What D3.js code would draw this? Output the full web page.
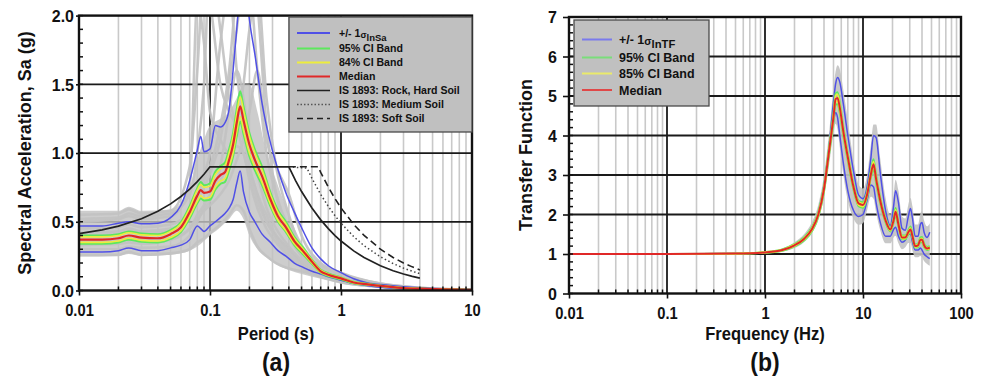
<!DOCTYPE html>
<html>
<head>
<meta charset="utf-8">
<script src="https://cdn.jsdelivr.net/npm/d3@7"></script>
<style>
  body { margin: 0; background: #fff; }
  svg { display: block; }
  text { font-family: "Liberation Sans", Arial, sans-serif; font-weight: bold; fill: #111; }
</style>
</head>
<body>
<svg id="chart" width="984" height="383"></svg>
<script>
// ---------- Panel (a): response spectra ----------
const periods = [0.01,0.015,0.02,0.024,0.03,0.04,0.05,0.06,0.07,0.08,0.085,0.09,0.1,0.11,0.12,0.13,0.14,0.15,0.16,0.17,0.18,0.2,0.22,0.25,0.29,0.33,0.38,0.44,0.51,0.6,0.7,0.8,1.0,1.25,1.6,2.2,3,4,6,10];
const medianSa = [0.37,0.37,0.38,0.40,0.385,0.38,0.41,0.46,0.57,0.69,0.73,0.71,0.72,0.80,0.84,0.86,0.95,1.06,1.22,1.34,1.24,1.06,0.95,0.83,0.66,0.54,0.46,0.36,0.29,0.21,0.14,0.115,0.088,0.058,0.045,0.03,0.018,0.013,0.008,0.005];
const sigmaUpSa = [0.47,0.47,0.49,0.50,0.485,0.49,0.53,0.62,0.80,1.02,1.12,1.01,1.03,1.20,1.19,1.22,1.32,1.60,1.90,2.2,2.4,1.97,1.72,1.36,1.07,0.88,0.71,0.57,0.44,0.31,0.23,0.18,0.13,0.085,0.055,0.04,0.028,0.02,0.012,0.008];
const sigmaLoSa = [0.28,0.28,0.29,0.31,0.29,0.29,0.31,0.33,0.37,0.47,0.45,0.43,0.47,0.50,0.53,0.56,0.60,0.66,0.78,0.87,0.72,0.57,0.50,0.41,0.35,0.29,0.25,0.20,0.17,0.14,0.12,0.10,0.075,0.05,0.035,0.02,0.012,0.009,0.005,0.003];
const ci95UpSa = [0.40,0.40,0.41,0.43,0.415,0.41,0.44,0.495,0.615,0.745,0.79,0.765,0.78,0.865,0.905,0.93,1.03,1.145,1.32,1.45,1.34,1.145,1.025,0.90,0.71,0.585,0.50,0.39,0.315,0.225,0.15,0.125,0.095,0.063,0.049,0.032,0.019,0.014,0.009,0.0055];
const ci95LoSa = [0.34,0.34,0.35,0.37,0.355,0.35,0.375,0.425,0.525,0.635,0.67,0.655,0.66,0.735,0.775,0.79,0.875,0.975,1.12,1.23,1.14,0.975,0.875,0.765,0.61,0.50,0.425,0.33,0.265,0.195,0.13,0.105,0.081,0.053,0.041,0.028,0.017,0.012,0.007,0.0045];
const ci84UpSa = [0.39,0.39,0.40,0.42,0.405,0.40,0.43,0.485,0.60,0.73,0.77,0.75,0.76,0.845,0.885,0.905,1.00,1.12,1.285,1.41,1.31,1.12,1.00,0.875,0.695,0.57,0.485,0.38,0.305,0.22,0.148,0.121,0.093,0.061,0.047,0.032,0.019,0.014,0.0085,0.0053];
const ci84LoSa = [0.35,0.35,0.36,0.38,0.365,0.36,0.385,0.435,0.54,0.65,0.69,0.67,0.68,0.755,0.795,0.815,0.90,1.00,1.155,1.265,1.17,1.00,0.90,0.785,0.625,0.51,0.435,0.34,0.275,0.20,0.132,0.109,0.083,0.055,0.043,0.028,0.017,0.012,0.0075,0.0047];

// individual record spectra (grey)
const recPeriods = [0.01,0.02,0.024,0.03,0.05,0.07,0.08,0.09,0.1,0.12,0.14,0.16,0.18,0.2,0.23,0.27,0.32,0.4,0.5,0.7,1,2,4,10];
const recSpreadHi = [0.58,0.58,0.61,0.58,0.59,0.75,0.95,1.1,1.2,1.25,1.3,1.4,1.5,1.5,1.3,1.0,0.8,0.55,0.35,0.2,0.13,0.055,0.022,0.007];
const recSpreadLo = [0.245,0.25,0.265,0.25,0.26,0.29,0.32,0.36,0.40,0.46,0.52,0.58,0.52,0.40,0.30,0.24,0.19,0.15,0.12,0.085,0.05,0.02,0.008,0.002];
const rec1 = [0.55,0.56,0.59,0.56,0.58,0.9,1.6,2.3,2.1,1.5,1.3,1.2,1.1,0.9,0.7,0.5,0.4,0.3,0.2,0.12,0.08,0.03,0.012,0.004];
const rec2 = [0.45,0.46,0.48,0.46,0.48,0.58,0.7,0.8,0.9,1.2,1.6,2.2,2.5,2.3,1.6,1.0,0.7,0.45,0.3,0.16,0.1,0.04,0.015,0.005];
const rec3 = [0.40,0.41,0.43,0.41,0.44,0.55,0.7,0.85,1.0,1.8,2.2,1.6,1.2,0.9,0.7,0.55,0.4,0.3,0.2,0.12,0.08,0.03,0.01,0.004];
const rec4 = [0.33,0.34,0.35,0.34,0.37,0.45,0.55,0.62,0.7,0.8,0.95,1.2,1.5,1.9,2.2,1.4,0.9,0.55,0.3,0.18,0.12,0.05,0.02,0.006];
const rec5 = [0.26,0.26,0.28,0.26,0.27,0.30,0.35,0.38,0.42,0.48,0.55,0.62,0.58,0.45,0.32,0.25,0.2,0.16,0.14,0.1,0.06,0.025,0.01,0.003];
const rec6 = [0.30,0.30,0.32,0.31,0.32,0.40,0.5,0.6,0.65,0.9,1.3,1.6,1.4,1.1,0.85,0.6,0.45,0.32,0.22,0.13,0.085,0.035,0.012,0.004];
const rec7 = [0.50,0.52,0.54,0.52,0.54,0.75,2.1,1.8,1.3,1.1,1.0,1.05,1.0,0.8,0.6,0.45,0.35,0.25,0.17,0.1,0.07,0.03,0.012,0.004];
const rec8 = [0.36,0.36,0.38,0.37,0.38,0.45,0.52,0.58,0.62,0.7,0.8,0.95,1.1,1.3,1.6,1.1,0.9,0.7,0.4,0.2,0.13,0.05,0.02,0.005];
const rec9 = [0.42,0.43,0.45,0.43,0.45,0.55,0.65,0.75,0.85,1.1,1.5,1.9,2.3,2.6,2.1,1.2,0.7,0.4,0.25,0.14,0.09,0.04,0.015,0.005];
const rec10 = [0.52,0.53,0.56,0.54,0.56,0.7,1.0,1.5,2.4,1.9,1.4,1.2,1.0,0.85,0.65,0.5,0.38,0.27,0.18,0.11,0.075,0.03,0.01,0.004];

// IS 1893 design spectra (scaled)
const rockT  = [0.01,0.015,0.02,0.03,0.04,0.05,0.06,0.07,0.08,0.09,0.1,0.4,0.45,0.5,0.6,0.7,0.8,0.9,1.0,1.25,1.5,2,2.5,3,3.5,4];
const rockSa = [0.414,0.441,0.468,0.522,0.576,0.63,0.684,0.738,0.792,0.846,0.9,0.9,0.8,0.72,0.6,0.514,0.45,0.4,0.36,0.288,0.24,0.18,0.144,0.12,0.103,0.09];
const mediumT  = [0.4,0.55,0.6,0.7,0.8,0.9,1.0,1.25,1.5,2,2.5,3,3.5,4];
const mediumSa = [0.9,0.89,0.816,0.699,0.612,0.544,0.49,0.392,0.326,0.245,0.196,0.163,0.14,0.122];
const softT  = [0.4,0.67,0.7,0.8,0.9,1.0,1.25,1.5,2,2.5,3,3.5,4];
const softSa = [0.9,0.9,0.859,0.752,0.668,0.601,0.481,0.401,0.301,0.24,0.2,0.172,0.15];

const saTicks = [0, 0.5, 1, 1.5, 2];
const periodTicks = [0.01, 0.1, 1, 10];

// ---------- Panel (b): transfer functions ----------
const freq = [0.01,0.1,0.5,1,1.5,2,2.5,3,3.5,4,4.5,5,5.25,5.5,5.8,6.3,7,8,9,10,11,12,12.8,13.6,15,17,19,20.5,21.5,23,25,27,29,30.5,32,34,36.5,38.5,40,42,45,48];
const medianTF = [1.00,1.00,1.01,1.04,1.10,1.22,1.38,1.62,2.00,2.65,3.60,4.47,4.92,4.95,4.70,4.10,3.45,2.70,2.28,2.24,2.50,3.00,3.27,2.90,2.35,1.85,1.62,1.85,2.07,1.75,1.42,1.42,1.55,1.62,1.45,1.20,1.22,1.36,1.36,1.22,1.14,1.16];
const sigmaUpTF = [1.00,1.00,1.01,1.04,1.10,1.23,1.40,1.66,2.06,2.75,3.70,4.85,5.30,5.47,5.35,4.80,4.00,3.10,2.50,2.40,2.70,3.40,4.00,3.95,3.05,2.10,1.72,2.20,2.60,2.30,1.65,1.60,1.95,2.15,1.90,1.45,1.45,1.75,1.80,1.55,1.42,1.55];
const sigmaLoTF = [1.00,1.00,1.01,1.04,1.10,1.22,1.38,1.63,2.02,2.68,3.55,4.35,4.58,4.45,4.00,3.30,2.60,2.10,1.95,2.00,2.35,2.75,2.70,2.30,1.80,1.45,1.45,1.62,1.68,1.45,1.30,1.35,1.50,1.50,1.30,1.10,1.10,1.15,1.10,1.00,0.93,0.88];
const ci95UpTF = [1.00,1.00,1.01,1.05,1.12,1.25,1.42,1.67,2.06,2.73,3.70,4.60,5.07,5.10,4.84,4.22,3.55,2.78,2.35,2.31,2.58,3.10,3.40,3.01,2.43,1.91,1.67,1.92,2.17,1.82,1.47,1.47,1.61,1.70,1.51,1.24,1.27,1.42,1.43,1.27,1.18,1.20];
const ci95LoTF = [1.00,1.00,1.00,1.03,1.08,1.19,1.34,1.57,1.94,2.57,3.50,4.34,4.77,4.80,4.56,3.98,3.35,2.62,2.21,2.17,2.42,2.91,3.14,2.79,2.27,1.79,1.57,1.78,1.97,1.68,1.37,1.37,1.49,1.54,1.39,1.16,1.17,1.30,1.29,1.17,1.10,1.12];
const ci85UpTF = [1.00,1.00,1.01,1.05,1.11,1.24,1.40,1.65,2.04,2.70,3.66,4.55,5.01,5.04,4.78,4.17,3.51,2.75,2.32,2.28,2.55,3.06,3.34,2.96,2.39,1.88,1.65,1.89,2.12,1.79,1.45,1.45,1.58,1.66,1.48,1.22,1.25,1.39,1.40,1.25,1.16,1.18];
const ci85LoTF = [1.00,1.00,1.01,1.03,1.09,1.20,1.36,1.59,1.97,2.61,3.54,4.40,4.84,4.87,4.62,4.03,3.39,2.66,2.24,2.20,2.46,2.95,3.20,2.85,2.31,1.82,1.59,1.81,2.02,1.72,1.39,1.39,1.52,1.58,1.42,1.18,1.19,1.33,1.32,1.19,1.12,1.14];
const recSpreadHiTF = [1.00,1.00,1.01,1.05,1.14,1.30,1.50,1.80,2.25,3.0,4.05,5.2,5.62,5.78,5.68,5.15,4.38,3.38,2.76,2.66,3.0,3.75,4.28,4.28,3.42,2.42,2.0,2.5,2.88,2.6,1.95,1.9,2.25,2.42,2.2,1.75,1.75,2.02,2.08,1.85,1.7,1.78];
const recSpreadLoTF = [1.00,1.00,1.00,1.02,1.06,1.15,1.30,1.52,1.86,2.45,3.25,4.05,4.3,4.15,3.7,3.0,2.35,1.9,1.74,1.78,2.1,2.45,2.4,2.05,1.6,1.27,1.27,1.42,1.46,1.27,1.12,1.17,1.28,1.28,1.08,0.92,0.92,0.95,0.92,0.82,0.75,0.70];

const tfTicks = [0,1,2,3,4,5,6,7];
const freqTicks = [0.01, 0.1, 1, 10, 100];

// ---------- drawing ----------
const COL = { blue: "#5050e6", green: "#5de85d", yellow: "#eded3c", red: "#e02828", grey: "#c2c2c2", ink: "#111" };
const svg = d3.select("#chart");
const pair = (xs, ys) => d3.zip(xs, ys);

// horizontal text with slight condensing
function hText(g, x, y, str, size, anchor) {
  return g.append("text")
    .attr("transform", `translate(${x},${y}) scale(0.92,1)`)
    .attr("text-anchor", anchor || "middle")
    .attr("font-size", size)
    .text(str);
}

function panel(opt) {
  const { x, y, id } = opt;
  const [x0, x1] = x.range(), [y0, y1] = y.range();
  const g = svg.append("g");

  svg.append("clipPath").attr("id", id).append("rect")
    .attr("x", x0).attr("y", y1).attr("width", x1 - x0).attr("height", y0 - y1);

  // vertical grid: minor multiples grey, decades black
  const all = x.ticks();
  const isDecade = v => Math.abs(Math.log10(v) - Math.round(Math.log10(v))) < 1e-9;
  g.append("g").selectAll("line").data(all.filter(v => !isDecade(v)))
    .join("line").attr("x1", d => x(d)).attr("x2", d => x(d)).attr("y1", y1).attr("y2", y0)
    .attr("stroke", "#c9c9c9").attr("stroke-width", 1.6);

  const gridMajor = g.append("g");
  gridMajor.selectAll("line.v").data(all.filter(v => isDecade(v) && v > x.domain()[0] && v < x.domain()[1]))
    .join("line").attr("x1", d => x(d)).attr("x2", d => x(d)).attr("y1", y1).attr("y2", y0)
    .attr("stroke", "#1a1a1a").attr("stroke-width", 1.8);
  gridMajor.selectAll("line.h").data(opt.yGrid)
    .join("line").attr("x1", x0).attr("x2", x1).attr("y1", d => y(d)).attr("y2", d => y(d))
    .attr("stroke", "#1a1a1a").attr("stroke-width", 1.8);

  const inner = g.append("g").attr("clip-path", `url(#${id})`);

  // minor ticks inside the frame
  g.append("g").selectAll("line").data(all.filter(v => !isDecade(v)))
    .join("line").attr("x1", d => x(d)).attr("x2", d => x(d)).attr("y1", y0).attr("y2", y0 - 4)
    .attr("stroke", COL.ink).attr("stroke-width", 1.5);
  g.append("g").selectAll("line").data(d3.range(y.domain()[0], y.domain()[1] + 1e-9, opt.yMinor))
    .join("line").attr("x1", x0).attr("x2", x0 + 4).attr("y1", d => y(d)).attr("y2", d => y(d))
    .attr("stroke", COL.ink).attr("stroke-width", 1.5);

  // axes with major tick labels
  const ax = g.append("g").attr("transform", `translate(0,${y0})`)
    .call(d3.axisBottom(x).tickValues(opt.xTicks).tickFormat(d3.format("~g"))
      .tickSizeInner(5).tickSizeOuter(0).tickPadding(9.5));
  const ay = g.append("g").attr("transform", `translate(${x0},0)`)
    .call(d3.axisLeft(y).tickValues(opt.yTicks).tickFormat(opt.yFormat)
      .tickSizeInner(opt.yTickLen).tickSizeOuter(0).tickPadding(opt.yPad));
  [ax, ay].forEach(a => {
    a.select(".domain").remove();
    a.selectAll("line").attr("stroke", COL.ink).attr("stroke-width", 1.6);
    a.selectAll("text").attr("font-size", 16).attr("font-family", null).attr("fill", COL.ink);
  });
  ax.selectAll("text").attr("transform", "scale(0.92,1)");
  ay.selectAll("text").attr("dy", "0.36em");

  return { g, inner, frame: () => {
    g.append("rect").attr("x", x0).attr("y", y1).attr("width", x1 - x0).attr("height", y0 - y1)
      .attr("fill", "none").attr("stroke", COL.ink).attr("stroke-width", 2.4);
  }};
}

function legend(g, box, rows, fontSize, lineX, textX) {
  const lg = g.append("g");
  lg.append("rect").attr("x", box.x).attr("y", box.y).attr("width", box.w).attr("height", box.h)
    .attr("fill", "#c0c0c0").attr("stroke", "#4a4a4a").attr("stroke-width", 1.3);
  rows.forEach(r => {
    lg.append("line").attr("x1", lineX[0]).attr("x2", lineX[1]).attr("y1", r.y).attr("y2", r.y)
      .attr("stroke", r.color).attr("stroke-width", r.width || 2)
      .attr("stroke-dasharray", r.dash || null);
    const t = lg.append("text").attr("transform", `translate(${textX},${r.y + fontSize * 0.36}) scale(0.96,1)`)
      .attr("font-size", fontSize);
    if (r.sigma) {
      t.append("tspan").text("+/- 1");
      t.append("tspan").attr("font-size", fontSize * 0.85).attr("dy", 1).text("σ");
      t.append("tspan").attr("font-size", fontSize * 0.9).attr("dy", 3).text(r.sigma);
    } else {
      t.text(r.label);
    }
  });
}

// ----- panel (a)
const xA = d3.scaleLog().domain([0.01, 10]).range([79, 472]);
const yA = d3.scaleLinear().domain([0, 2]).range([290.5, 15.6]);
const pA = panel({ x: xA, y: yA, id: "clipA", xTicks: periodTicks, yTicks: saTicks,
  yFormat: d3.format(".1f"), yGrid: [0.5, 1, 1.5], yMinor: 0.1, yTickLen: 3, yPad: 2 });

const lineA = d3.line().x(d => xA(d[0])).y(d => yA(d[1])).curve(d3.curveMonotoneX);
const areaA = d3.area().x(d => xA(d[0])).y0(d => yA(d[1])).y1(d => yA(d[2])).curve(d3.curveMonotoneX);

pA.inner.append("path").datum(d3.zip(recPeriods, recSpreadLo, recSpreadHi))
  .attr("d", areaA).attr("fill", COL.grey).attr("opacity", 0.82);
[rec1, rec2, rec3, rec4, rec5, rec6, rec7, rec8, rec9, rec10].forEach(r => {
  pA.inner.append("path").datum(pair(recPeriods, r)).attr("d", lineA)
    .attr("fill", "none").attr("stroke", COL.grey).attr("stroke-width", 2.6).attr("opacity", 0.92);
});
const bandsA = [
  [sigmaUpSa, COL.blue, 1.5], [sigmaLoSa, COL.blue, 1.5],
  [ci95UpSa, COL.green, 2], [ci95LoSa, COL.green, 2],
  [ci84UpSa, COL.yellow, 1.6], [ci84LoSa, COL.yellow, 1.6],
  [medianSa, COL.red, 2.2]
];
bandsA.forEach(([vals, c, w]) => {
  pA.inner.append("path").datum(pair(periods, vals)).attr("d", lineA)
    .attr("fill", "none").attr("stroke", c).attr("stroke-width", w);
});
const lineLin = d3.line().x(d => xA(d[0])).y(d => yA(d[1]));
pA.inner.append("path").datum(pair(rockT, rockSa)).attr("d", lineLin)
  .attr("fill", "none").attr("stroke", "#222").attr("stroke-width", 1.7);
pA.inner.append("path").datum(pair(mediumT, mediumSa)).attr("d", lineLin)
  .attr("fill", "none").attr("stroke", "#444").attr("stroke-width", 1.5).attr("stroke-dasharray", "1.5,2.5");
pA.inner.append("path").datum(pair(softT, softSa)).attr("d", lineLin)
  .attr("fill", "none").attr("stroke", "#222").attr("stroke-width", 1.6).attr("stroke-dasharray", "7,4");
pA.frame();

legend(pA.g, { x: 289, y: 17, w: 183, h: 115 }, [
  { y: 33, color: COL.blue, sigma: "lnSa" },
  { y: 48.5, color: COL.green, label: "95% CI Band" },
  { y: 62.5, color: COL.yellow, label: "84% CI Band" },
  { y: 76.5, color: COL.red, label: "Median" },
  { y: 90.5, color: "#222", label: "IS 1893: Rock, Hard Soil", width: 1.7 },
  { y: 104.5, color: "#555", label: "IS 1893: Medium Soil", width: 1.3, dash: "1.5,2" },
  { y: 118.5, color: "#222", label: "IS 1893: Soft Soil", width: 1.7, dash: "6,4" }
], 11, [297, 330], 339);

pA.g.append("text").attr("transform", "translate(31,153) rotate(-90)")
  .attr("text-anchor", "middle").attr("font-size", 18).text("Spectral Acceleration, Sa (g)");
hText(pA.g, 276, 340, "Period (s)", 18);
hText(pA.g, 276, 371, "(a)", 25);

// ----- panel (b)
const xB = d3.scaleLog().domain([0.01, 100]).range([569, 961]);
const yB = d3.scaleLinear().domain([0, 7]).range([293.5, 17]);
const pB = panel({ x: xB, y: yB, id: "clipB", xTicks: freqTicks, yTicks: tfTicks,
  yFormat: d3.format("d"), yGrid: [1, 2, 3, 4, 5, 6], yMinor: 0.2, yTickLen: 6, yPad: 6 });

const lineB = d3.line().x(d => xB(d[0])).y(d => yB(d[1])).curve(d3.curveMonotoneX);
const areaB = d3.area().x(d => xB(d[0])).y0(d => yB(d[1])).y1(d => yB(d[2])).curve(d3.curveMonotoneX);
pB.inner.append("path").datum(d3.zip(freq, recSpreadLoTF, recSpreadHiTF))
  .attr("d", areaB).attr("fill", COL.grey).attr("opacity", 0.9);
const bandsB = [
  [sigmaUpTF, COL.blue, 1.5], [sigmaLoTF, COL.blue, 1.5],
  [ci95UpTF, COL.green, 1.8], [ci95LoTF, COL.green, 1.8],
  [ci85UpTF, COL.yellow, 1.6], [ci85LoTF, COL.yellow, 1.6],
  [medianTF, COL.red, 2]
];
bandsB.forEach(([vals, c, w]) => {
  pB.inner.append("path").datum(pair(freq, vals)).attr("d", lineB)
    .attr("fill", "none").attr("stroke", c).attr("stroke-width", w);
});
pB.frame();

legend(pB.g, { x: 574, y: 20, w: 135, h: 86 }, [
  { y: 39.5, color: "#7a7aec", sigma: "lnTF" },
  { y: 57.5, color: "#7ade7a", label: "95% CI Band" },
  { y: 73.5, color: "#eaea6a", label: "85% CI Band" },
  { y: 90, color: "#e04848", label: "Median" }
], 13, [582, 612], 619);

pB.g.append("text").attr("transform", "translate(532,155) rotate(-90)")
  .attr("text-anchor", "middle").attr("font-size", 18).text("Transfer Function");
hText(pB.g, 765, 340, "Frequency (Hz)", 18);
hText(pB.g, 765, 371, "(b)", 25);
</script>
</body>
</html>
